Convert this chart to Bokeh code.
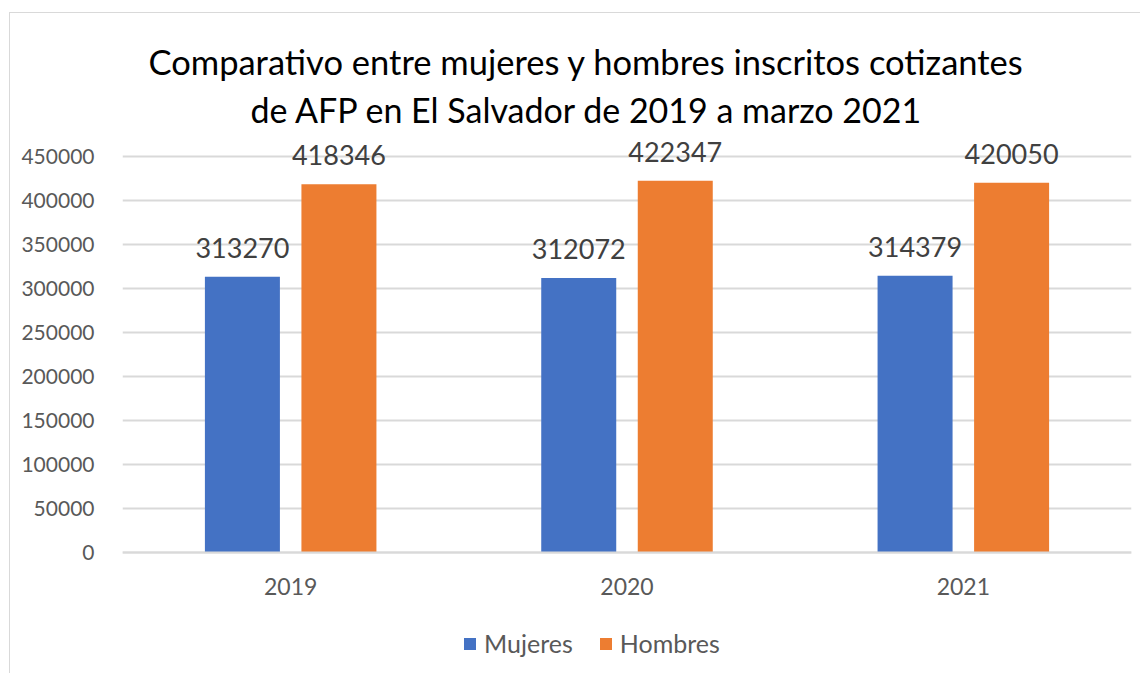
from bokeh.plotting import figure
from bokeh.models import (ColumnDataSource, FactorRange, LabelSet, Legend, LegendItem,
                          Title, FixedTicker, NumeralTickFormatter, Range1d)
from bokeh.core.properties import value
from bokeh.transform import dodge
from bokeh.embed import file_html
from bokeh.resources import INLINE

years = ["2019", "2020", "2021"]
mujeres = [313270, 312072, 314379]
hombres = [418346, 422347, 420050]
title_line1 = "Comparativo entre mujeres y hombres inscritos cotizantes"
title_line2 = "de AFP en El Salvador de 2019 a marzo 2021"
y_ticks = [0, 50000, 100000, 150000, 200000, 250000, 300000, 350000, 400000, 450000]

FONT = "Lato"
C_M = "#4472C4"
C_H = "#ED7D31"
GRID = "#D9D9D9"
TXT = "#595959"

src = ColumnDataSource(dict(year=years, mujeres=mujeres, hombres=hombres,
                            lm=[str(v) for v in mujeres], lh=[str(v) for v in hombres]))

# the frame extends above the top gridline (room for data labels) and below zero
# (room for the category labels and the legend)
p = figure(x_range=FactorRange(*years, range_padding=0), y_range=Range1d(-137500, 500000),
           frame_width=1009, frame_height=561, output_backend="svg", toolbar_location=None,
           title=title_line1, min_border_left=112, min_border_right=9,
           min_border_top=99, min_border_bottom=0)
p.styles = {"margin-left": "9px", "margin-top": "12px",
            "border-left": "1px solid #D9D9D9", "border-top": "1px solid #D9D9D9"}

p.title.text_font = FONT
p.title.text_font_size = "34.5px"
p.title.text_font_style = "normal"
p.title.text_color = "#000000"
p.title.align = "left"
p.title.offset = 26
p.title.standoff = 44
t2 = Title(text=title_line2, align="left", offset=128, text_font=FONT, text_font_size="34px",
           text_font_style="normal", text_color="#000000", standoff=-34)
p.add_layout(t2, "above")

w = 0.223
off = 0.1435
rm = p.vbar(x=dodge("year", -off, range=p.x_range), top="mujeres", width=w, source=src,
            fill_color=C_M, line_color=None)
rh = p.vbar(x=dodge("year", off, range=p.x_range), top="hombres", width=w, source=src,
            fill_color=C_H, line_color=None)

for col, lab, o in (("mujeres", "lm", -off), ("hombres", "lh", off)):
    ls = LabelSet(x=dodge("year", o, range=p.x_range), y=col, text=lab, source=src,
                  text_align="center", text_baseline="alphabetic", y_offset=19,
                  text_font=value(FONT), text_font_size=value("27px"), text_color=value("#404040"))
    p.add_layout(ls)

p.yaxis.ticker = FixedTicker(ticks=y_ticks)
p.yaxis.formatter = NumeralTickFormatter(format="0")
p.yaxis.axis_line_color = None
p.yaxis.major_tick_line_color = None
p.yaxis.minor_tick_line_color = None
p.yaxis.major_label_standoff = 22
p.yaxis.major_label_text_font = FONT
p.yaxis.major_label_text_font_size = "21px"
p.yaxis.major_label_text_color = TXT

p.xaxis.fixed_location = 0
p.xaxis.axis_line_color = GRID
p.xaxis.axis_line_width = 2
p.xaxis.major_tick_line_color = None
p.xaxis.minor_tick_line_color = None
p.xaxis.major_label_standoff = 19
p.xaxis.major_label_text_font = FONT
p.xaxis.major_label_text_font_size = "23px"
p.xaxis.major_label_text_color = TXT

p.xgrid.grid_line_color = None
p.ygrid.grid_line_color = GRID
p.ygrid.grid_line_width = 2
p.outline_line_color = None

legend = Legend(items=[LegendItem(label="Mujeres", renderers=[rm]),
                       LegendItem(label="Hombres", renderers=[rh])],
                orientation="horizontal", location=(340, 15),
                glyph_width=15, glyph_height=15, label_standoff=7, spacing=25,
                padding=0, margin=0, border_line_color=None, background_fill_alpha=0,
                label_text_font=FONT, label_text_font_size="25px", label_text_color=TXT)
p.add_layout(legend, "center")

open("out.html", "w").write(file_html(p, INLINE))
